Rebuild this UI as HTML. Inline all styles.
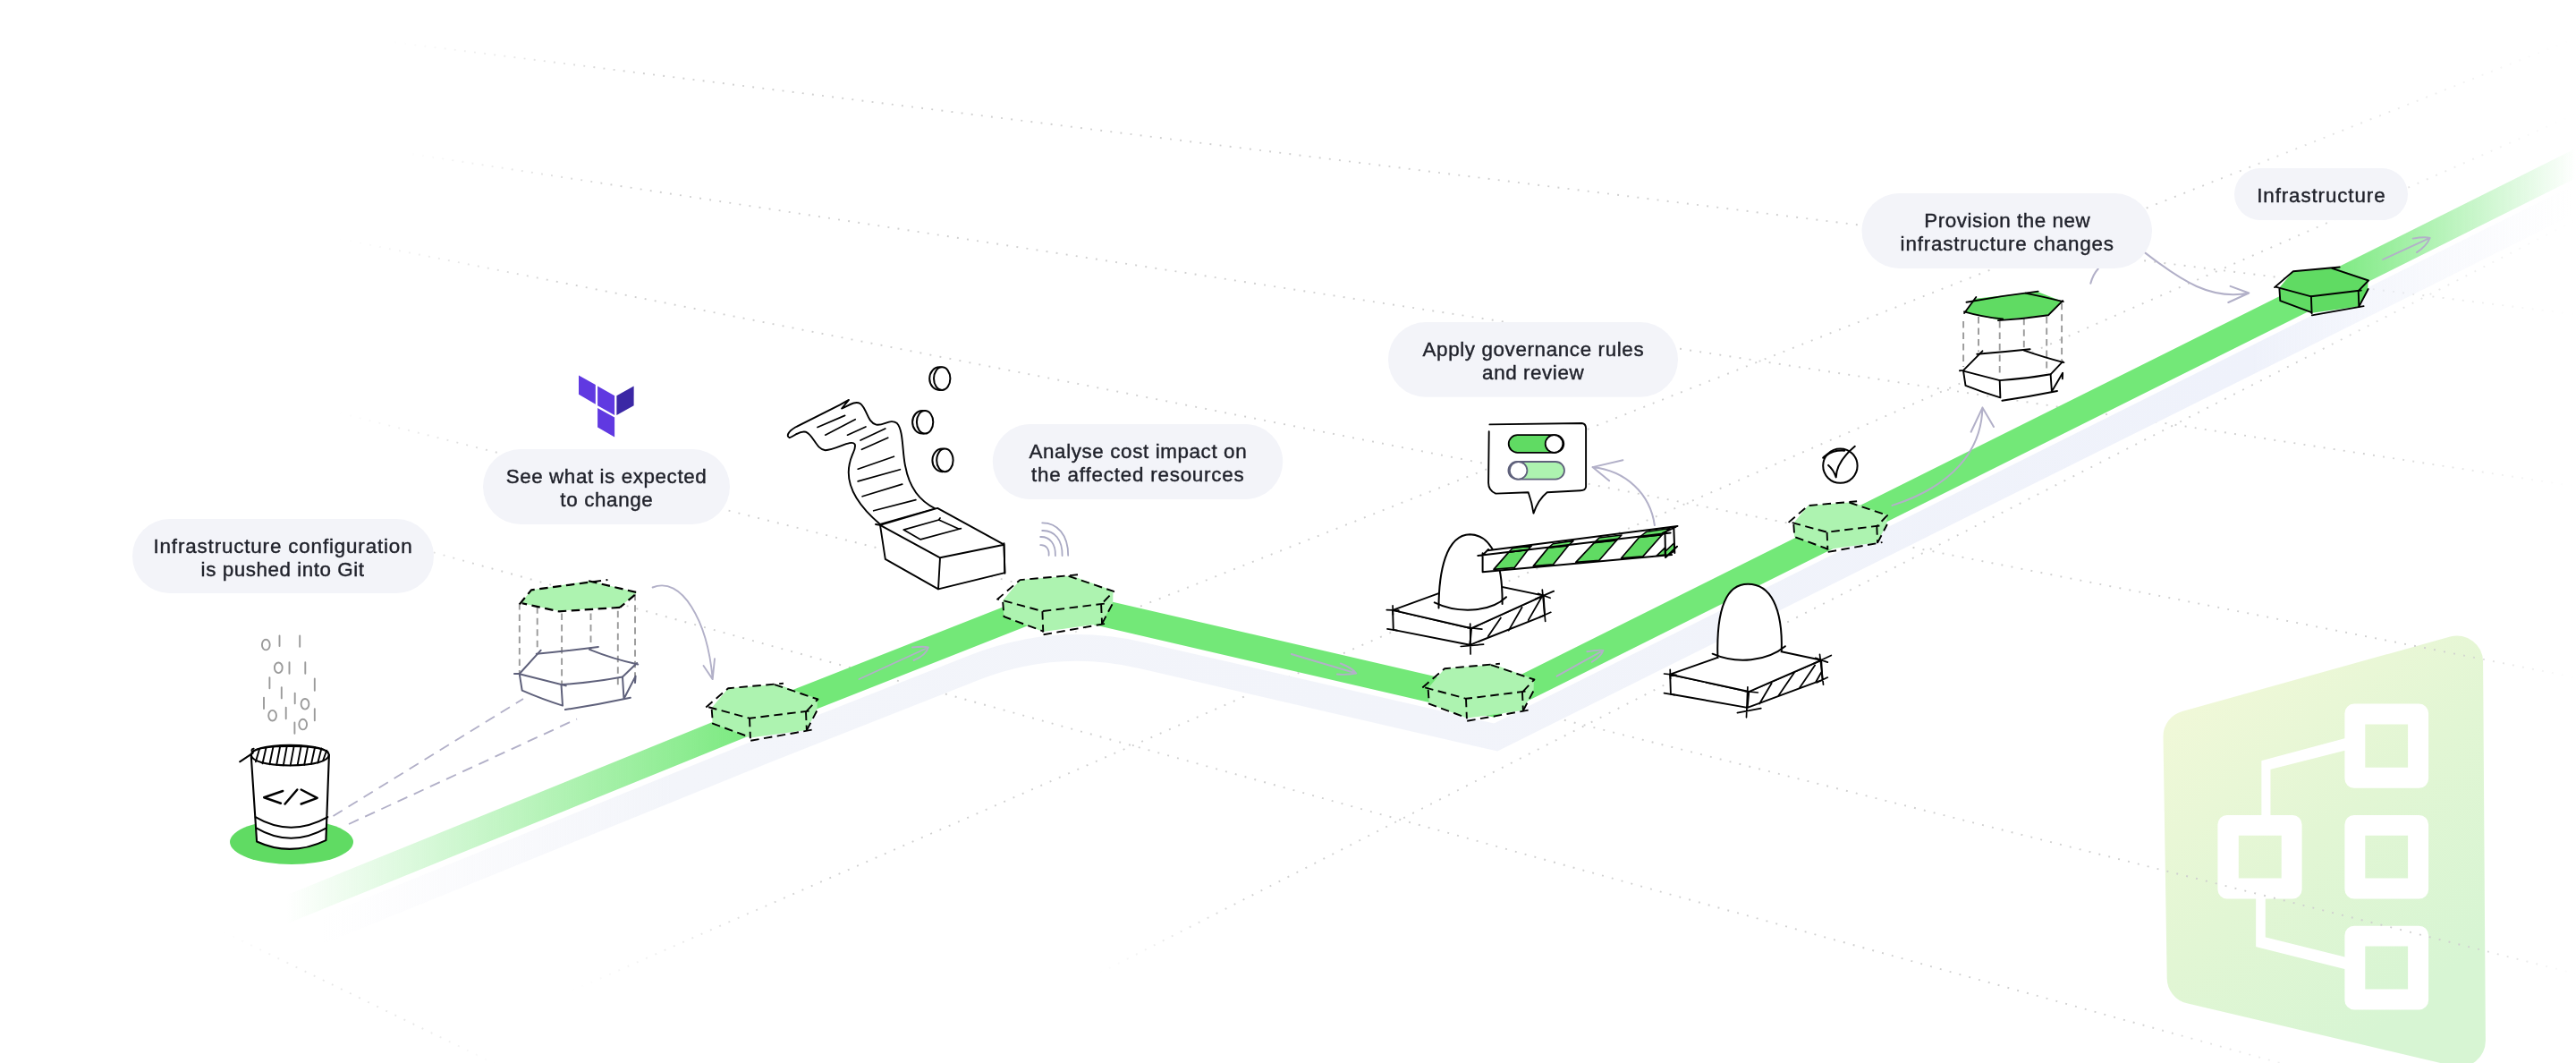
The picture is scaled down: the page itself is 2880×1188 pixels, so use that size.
<!DOCTYPE html>
<html lang="en"><head><meta charset="utf-8"><title>Infrastructure workflow</title>
<style>
html,body{margin:0;padding:0;background:#fff;}
body{width:2880px;height:1188px;overflow:hidden;}
svg{display:block;will-change:transform}
text{font-family:"Liberation Sans",sans-serif;}
</style></head><body>
<svg width="2880" height="1188" viewBox="0 0 2880 1188">
<defs>
<linearGradient id="gband" gradientUnits="userSpaceOnUse" x1="0" y1="0" x2="2880" y2="0">
<stop offset="0" stop-color="#73e878" stop-opacity="0"/>
<stop offset="0.111" stop-color="#73e878" stop-opacity="0"/>
<stop offset="0.302" stop-color="#73e878" stop-opacity="1"/>
<stop offset="0.8993" stop-color="#73e878" stop-opacity="1"/>
<stop offset="1" stop-color="#73e878" stop-opacity="0"/>
</linearGradient>
<linearGradient id="gshadow" gradientUnits="userSpaceOnUse" x1="0" y1="0" x2="2880" y2="0">
<stop offset="0" stop-color="#f4f5fa" stop-opacity="0"/>
<stop offset="0.125" stop-color="#f4f5fa" stop-opacity="0"/>
<stop offset="0.26" stop-color="#f3f5fa" stop-opacity="1"/>
<stop offset="0.55" stop-color="#f2f4fa" stop-opacity="1"/>
<stop offset="0.875" stop-color="#eff2fb" stop-opacity="1"/>
<stop offset="0.998" stop-color="#eff2fb" stop-opacity="0"/>
</linearGradient>
<linearGradient id="gicon" gradientUnits="userSpaceOnUse" x1="2430" y1="800" x2="2700" y2="1120">
<stop offset="0" stop-color="#f0f8d8"/>
<stop offset="0.5" stop-color="#e2f6d4"/>
<stop offset="1" stop-color="#d7f5d3"/>
</linearGradient>
</defs>
<path d="M 2418.5 823.3 A 29 29 0 0 1 2439.8 794.9 L 2739.3 711.6 A 29 29 0 0 1 2776.1 739.4 L 2778.9 1163.1 A 29 29 0 0 1 2743.3 1191.5 L 2445.0 1121.2 A 29 29 0 0 1 2422.7 1093.4 Z" fill="url(#gicon)"/>
<path d="M 2631.9 786.6 H 2704.6 A 10.5 10.5 0 0 1 2715.1 797.1 V 870.3 A 10.5 10.5 0 0 1 2704.6 880.8 H 2631.9 A 10.5 10.5 0 0 1 2621.4 870.3 V 797.1 A 10.5 10.5 0 0 1 2631.9 786.6 Z M 2644.3 809.5 V 857.8 H 2692.1 V 809.5 Z" fill="#fff" fill-rule="evenodd"/>
<path d="M 2631.9 910.9 H 2704.6 A 10.5 10.5 0 0 1 2715.1 921.4 V 994.1 A 10.5 10.5 0 0 1 2704.6 1004.6 H 2631.9 A 10.5 10.5 0 0 1 2621.4 994.1 V 921.4 A 10.5 10.5 0 0 1 2631.9 910.9 Z M 2644.3 933.8 V 981.6 H 2692.1 V 933.8 Z" fill="#fff" fill-rule="evenodd"/>
<path d="M 2631.9 1034.7 H 2704.6 A 10.5 10.5 0 0 1 2715.1 1045.2 V 1117.9 A 10.5 10.5 0 0 1 2704.6 1128.4 H 2631.9 A 10.5 10.5 0 0 1 2621.4 1117.9 V 1045.2 A 10.5 10.5 0 0 1 2631.9 1034.7 Z M 2644.3 1057.6 V 1105.4 H 2692.1 V 1057.6 Z" fill="#fff" fill-rule="evenodd"/>
<path d="M 2489.9 910.9 H 2563.1 A 10.5 10.5 0 0 1 2573.6 921.4 V 994.1 A 10.5 10.5 0 0 1 2563.1 1004.6 H 2489.9 A 10.5 10.5 0 0 1 2479.4 994.1 V 921.4 A 10.5 10.5 0 0 1 2489.9 910.9 Z M 2502.8 933.8 V 981.6 H 2550.7 V 933.8 Z" fill="#fff" fill-rule="evenodd"/>
<path d="M 2529.1 911.8 L 2529.1 850.7 L 2622.4 825.8 L 2622.4 837.7 L 2537.7 859.3 L 2537.7 911.8 Z" fill="#fff" stroke="#fff" stroke-width="1.5" stroke-linejoin="round"/>
<path d="M 2522.9 1003.6 L 2522.9 1057.6 L 2622.4 1082.5 L 2622.4 1070.5 L 2532 1048.1 L 2532 1003.6 Z" fill="#fff" stroke="#fff" stroke-width="1.5" stroke-linejoin="round"/>
<g id="grid">
<linearGradient id="gl1" gradientUnits="userSpaceOnUse" x1="430" y1="45.9446" x2="2880" y2="351.46"><stop offset="0" stop-color="#cfcfcf" stop-opacity="0"/><stop offset="0.12" stop-color="#cfcfcf" stop-opacity="1"/><stop offset="0.88" stop-color="#cfcfcf" stop-opacity="1"/><stop offset="1" stop-color="#cfcfcf" stop-opacity="0"/></linearGradient>
<path d="M 430 45.9446 L 2880 351.46" fill="none" stroke="url(#gl1)" stroke-width="1.9" stroke-dasharray="1.9 9.3"/>
<linearGradient id="gl2" gradientUnits="userSpaceOnUse" x1="450" y1="170.555" x2="2880" y2="543.561"><stop offset="0" stop-color="#cfcfcf" stop-opacity="0"/><stop offset="0.1" stop-color="#cfcfcf" stop-opacity="1"/><stop offset="0.9" stop-color="#cfcfcf" stop-opacity="1"/><stop offset="1" stop-color="#cfcfcf" stop-opacity="0"/></linearGradient>
<path d="M 450 170.555 L 2880 543.561" fill="none" stroke="url(#gl2)" stroke-width="1.9" stroke-dasharray="1.9 9.3"/>
<linearGradient id="gl3" gradientUnits="userSpaceOnUse" x1="380" y1="267.208" x2="2880" y2="757.208"><stop offset="0" stop-color="#cfcfcf" stop-opacity="0"/><stop offset="0.1" stop-color="#cfcfcf" stop-opacity="1"/><stop offset="0.94" stop-color="#cfcfcf" stop-opacity="1"/><stop offset="1" stop-color="#cfcfcf" stop-opacity="0"/></linearGradient>
<path d="M 380 267.208 L 2880 757.208" fill="none" stroke="url(#gl3)" stroke-width="1.9" stroke-dasharray="1.9 9.3"/>
<linearGradient id="gl4" gradientUnits="userSpaceOnUse" x1="380" y1="461.734" x2="2880" y2="1088.23"><stop offset="0" stop-color="#cfcfcf" stop-opacity="0"/><stop offset="0.08" stop-color="#cfcfcf" stop-opacity="1"/><stop offset="0.95" stop-color="#cfcfcf" stop-opacity="1"/><stop offset="1" stop-color="#cfcfcf" stop-opacity="0"/></linearGradient>
<path d="M 380 461.734 L 2880 1088.23" fill="none" stroke="url(#gl4)" stroke-width="1.9" stroke-dasharray="1.9 9.3"/>
<linearGradient id="gl5" gradientUnits="userSpaceOnUse" x1="420" y1="599.481" x2="2640" y2="1213.09"><stop offset="0" stop-color="#cfcfcf" stop-opacity="0"/><stop offset="0.05" stop-color="#cfcfcf" stop-opacity="1"/><stop offset="0.88" stop-color="#cfcfcf" stop-opacity="1"/><stop offset="1" stop-color="#cfcfcf" stop-opacity="0"/></linearGradient>
<path d="M 420 599.481 L 2640 1213.09" fill="none" stroke="url(#gl5)" stroke-width="1.9" stroke-dasharray="1.9 9.3"/>
<linearGradient id="gl6" gradientUnits="userSpaceOnUse" x1="250" y1="1041.4" x2="560" y2="1192.06"><stop offset="0" stop-color="#cfcfcf" stop-opacity="0"/><stop offset="0.3" stop-color="#cfcfcf" stop-opacity="0.5"/><stop offset="0.7" stop-color="#cfcfcf" stop-opacity="0.5"/><stop offset="1" stop-color="#cfcfcf" stop-opacity="0"/></linearGradient>
<path d="M 250 1041.4 L 560 1192.06" fill="none" stroke="url(#gl6)" stroke-width="1.9" stroke-dasharray="1.9 9.3"/>
<linearGradient id="gl7" gradientUnits="userSpaceOnUse" x1="1150" y1="727" x2="2880" y2="42.5"><stop offset="0" stop-color="#cfcfcf" stop-opacity="0"/><stop offset="0.05" stop-color="#cfcfcf" stop-opacity="1"/><stop offset="0.75" stop-color="#cfcfcf" stop-opacity="1"/><stop offset="1" stop-color="#cfcfcf" stop-opacity="0"/></linearGradient>
<path d="M 1150 727 L 2880 42.5" fill="none" stroke="url(#gl7)" stroke-width="1.9" stroke-dasharray="1.9 9.3"/>
<linearGradient id="gl8" gradientUnits="userSpaceOnUse" x1="640" y1="1107" x2="2880" y2="127.5"><stop offset="0" stop-color="#cfcfcf" stop-opacity="0"/><stop offset="0.12" stop-color="#cfcfcf" stop-opacity="1"/><stop offset="0.85" stop-color="#cfcfcf" stop-opacity="1"/><stop offset="1" stop-color="#cfcfcf" stop-opacity="0"/></linearGradient>
<path d="M 640 1107 L 2880 127.5" fill="none" stroke="url(#gl8)" stroke-width="1.9" stroke-dasharray="1.9 9.3"/>
<linearGradient id="gl9" gradientUnits="userSpaceOnUse" x1="1230" y1="1087.18" x2="2880" y2="245.676"><stop offset="0" stop-color="#cfcfcf" stop-opacity="0"/><stop offset="0.1" stop-color="#cfcfcf" stop-opacity="1"/><stop offset="0.8" stop-color="#cfcfcf" stop-opacity="1"/><stop offset="1" stop-color="#cfcfcf" stop-opacity="0"/></linearGradient>
<path d="M 1230 1087.18 L 2880 245.676" fill="none" stroke="url(#gl9)" stroke-width="1.9" stroke-dasharray="1.9 9.3"/>
</g>
<path d="M 303.4 1062.5 L 855.4 838.3 L 1089.2 746.1 Q 1180.4 710.2 1275.9 732.3 L 1672.4 824.0 L 2903.4 210.2" fill="none" stroke="url(#gshadow)" stroke-width="29.5" stroke-linejoin="miter"/>
<path d="M 300.0 1024.7 L 852.0 800.5 L 1177.0 672.4 L 1669.0 786.2 L 2900.0 172.4" fill="none" stroke="url(#gband)" stroke-width="29.7" stroke-linejoin="miter"/>
<path d="M 960.5 759 L 1038 723.5 M 1020 723.5 Q 1032.5 722 1038 723.5 Q 1035 732.5 1021.5 738" fill="none" stroke="#b2b0c8" stroke-width="1.9" stroke-linecap="round" stroke-linejoin="round" />
<path d="M 1443.8 731 L 1516.2 752.5 M 1498.8 741.5 Q 1511.2 746.2 1516.2 752.5 Q 1505 754.5 1495 753.5" fill="none" stroke="#b2b0c8" stroke-width="1.9" stroke-linecap="round" stroke-linejoin="round" />
<path d="M 1740.6 755.7 L 1792.4 726.9 M 1774.4 728.3 Q 1787.3 725.9 1792.4 726.9 Q 1790 733.7 1779.8 739.8" fill="none" stroke="#b2b0c8" stroke-width="1.9" stroke-linecap="round" stroke-linejoin="round" />
<path d="M 2664.1 290 L 2716.7 265.9 M 2697.6 266.6 Q 2710.8 264.3 2716.7 265.9 Q 2713.1 274.8 2701.9 282.1" fill="none" stroke="#b2b0c8" stroke-width="1.9" stroke-linecap="round" stroke-linejoin="round" />
<path d="M 795.7 791.1 L 814.1 769.2 L 869.5 764.8 L 913.8 780.9 L 913.5 793.1 L 901.6 815.9 L 838.9 824.6 L 796.6 808.6 Z" fill="#adf3b0" stroke="none" stroke-width="0" stroke-linecap="round" stroke-linejoin="round" />
<path d="M 789.3 790.5 L 814.1 769.2 L 875.9 763.7" fill="none" stroke="#000" stroke-width="1.9" stroke-linejoin="round" stroke-dasharray="9.5 5.5" stroke-linecap="butt"/>
<path d="M 866 765.1 L 914.4 781.5 L 901 795.5" fill="none" stroke="#000" stroke-width="1.9" stroke-linejoin="round" stroke-dasharray="9.5 5.5" stroke-linecap="butt"/>
<path d="M 904.5 794.6 L 838 802.7 L 790.8 789.9" fill="none" stroke="#000" stroke-width="1.9" stroke-linejoin="round" stroke-dasharray="9.5 5.5" stroke-linecap="butt"/>
<path d="M 795.7 792.8 L 796.9 808.6 L 838.6 824" fill="none" stroke="#000" stroke-width="1.9" stroke-linejoin="round" stroke-dasharray="9.5 5.5" stroke-linecap="butt"/>
<path d="M 838 802.7 L 838.9 825.2" fill="none" stroke="#000" stroke-width="1.9" stroke-linejoin="round" stroke-dasharray="9.5 5.5" stroke-linecap="butt"/>
<path d="M 839.2 827.8 L 908 815.6" fill="none" stroke="#000" stroke-width="1.9" stroke-linejoin="round" stroke-dasharray="9.5 5.5" stroke-linecap="butt"/>
<path d="M 901 795.5 L 901.9 816.7" fill="none" stroke="#000" stroke-width="1.9" stroke-linejoin="round" stroke-dasharray="9.5 5.5" stroke-linecap="butt"/>
<path d="M 901.9 816.2 L 914.1 792.8" fill="none" stroke="#000" stroke-width="1.9" stroke-linejoin="round" stroke-dasharray="9.5 5.5" stroke-linecap="butt"/>
<path d="M 1121.2 671 L 1140.4 648.1 L 1198.3 643.6 L 1244.5 660.3 L 1244.2 673.1 L 1231.8 696.8 L 1166.3 706 L 1122.2 689.2 Z" fill="#adf3b0" stroke="none" stroke-width="0" stroke-linecap="round" stroke-linejoin="round" />
<path d="M 1114.5 670.3 L 1140.4 648.1 L 1205 642.3" fill="none" stroke="#000" stroke-width="1.9" stroke-linejoin="round" stroke-dasharray="9.5 5.5" stroke-linecap="butt"/>
<path d="M 1194.6 643.9 L 1245.2 660.9 L 1231.1 675.5" fill="none" stroke="#000" stroke-width="1.9" stroke-linejoin="round" stroke-dasharray="9.5 5.5" stroke-linecap="butt"/>
<path d="M 1234.8 674.6 L 1165.4 683.1 L 1116.1 669.7" fill="none" stroke="#000" stroke-width="1.9" stroke-linejoin="round" stroke-dasharray="9.5 5.5" stroke-linecap="butt"/>
<path d="M 1121.2 672.8 L 1122.5 689.2 L 1166 705.4" fill="none" stroke="#000" stroke-width="1.9" stroke-linejoin="round" stroke-dasharray="9.5 5.5" stroke-linecap="butt"/>
<path d="M 1165.4 683.1 L 1166.3 706.6" fill="none" stroke="#000" stroke-width="1.9" stroke-linejoin="round" stroke-dasharray="9.5 5.5" stroke-linecap="butt"/>
<path d="M 1166.6 709.3 L 1238.5 696.5" fill="none" stroke="#000" stroke-width="1.9" stroke-linejoin="round" stroke-dasharray="9.5 5.5" stroke-linecap="butt"/>
<path d="M 1231.1 675.5 L 1232.1 697.7" fill="none" stroke="#000" stroke-width="1.9" stroke-linejoin="round" stroke-dasharray="9.5 5.5" stroke-linecap="butt"/>
<path d="M 1232.1 697.1 L 1244.8 672.8" fill="none" stroke="#000" stroke-width="1.9" stroke-linejoin="round" stroke-dasharray="9.5 5.5" stroke-linecap="butt"/>
<path d="M 1596.7 769.1 L 1615.1 747.2 L 1670.5 742.8 L 1714.9 758.9 L 1714.6 771.1 L 1702.6 793.9 L 1639.9 802.6 L 1597.6 786.6 Z" fill="#adf3b0" stroke="none" stroke-width="0" stroke-linecap="round" stroke-linejoin="round" />
<path d="M 1590.3 768.5 L 1615.1 747.2 L 1676.9 741.7" fill="none" stroke="#000" stroke-width="1.9" stroke-linejoin="round" stroke-dasharray="9.5 5.5" stroke-linecap="butt"/>
<path d="M 1667 743.1 L 1715.4 759.5 L 1702 773.5" fill="none" stroke="#000" stroke-width="1.9" stroke-linejoin="round" stroke-dasharray="9.5 5.5" stroke-linecap="butt"/>
<path d="M 1705.5 772.6 L 1639 780.8 L 1591.7 767.9" fill="none" stroke="#000" stroke-width="1.9" stroke-linejoin="round" stroke-dasharray="9.5 5.5" stroke-linecap="butt"/>
<path d="M 1596.7 770.8 L 1597.8 786.6 L 1639.6 802.1" fill="none" stroke="#000" stroke-width="1.9" stroke-linejoin="round" stroke-dasharray="9.5 5.5" stroke-linecap="butt"/>
<path d="M 1639 780.8 L 1639.9 803.2" fill="none" stroke="#000" stroke-width="1.9" stroke-linejoin="round" stroke-dasharray="9.5 5.5" stroke-linecap="butt"/>
<path d="M 1640.2 805.8 L 1709 793.6" fill="none" stroke="#000" stroke-width="1.9" stroke-linejoin="round" stroke-dasharray="9.5 5.5" stroke-linecap="butt"/>
<path d="M 1702 773.5 L 1702.9 794.8" fill="none" stroke="#000" stroke-width="1.9" stroke-linejoin="round" stroke-dasharray="9.5 5.5" stroke-linecap="butt"/>
<path d="M 1702.9 794.2 L 1715.2 770.8" fill="none" stroke="#000" stroke-width="1.9" stroke-linejoin="round" stroke-dasharray="9.5 5.5" stroke-linecap="butt"/>
<path d="M 2005.3 584.4 L 2021.5 565.1 L 2070.5 561.2 L 2109.6 575.4 L 2109.4 586.2 L 2098.8 606.3 L 2043.4 614 L 2006.1 599.9 Z" fill="#adf3b0" stroke="none" stroke-width="0" stroke-linecap="round" stroke-linejoin="round" />
<path d="M 1999.6 583.9 L 2021.5 565.1 L 2076.1 560.2" fill="none" stroke="#000" stroke-width="1.9" stroke-linejoin="round" stroke-dasharray="9.5 5.5" stroke-linecap="butt"/>
<path d="M 2067.4 561.5 L 2110.1 575.9 L 2098.3 588.3" fill="none" stroke="#000" stroke-width="1.9" stroke-linejoin="round" stroke-dasharray="9.5 5.5" stroke-linecap="butt"/>
<path d="M 2101.4 587.5 L 2042.6 594.7 L 2000.9 583.4" fill="none" stroke="#000" stroke-width="1.9" stroke-linejoin="round" stroke-dasharray="9.5 5.5" stroke-linecap="butt"/>
<path d="M 2005.3 586 L 2006.3 599.9 L 2043.1 613.5" fill="none" stroke="#000" stroke-width="1.9" stroke-linejoin="round" stroke-dasharray="9.5 5.5" stroke-linecap="butt"/>
<path d="M 2042.6 594.7 L 2043.4 614.6" fill="none" stroke="#000" stroke-width="1.9" stroke-linejoin="round" stroke-dasharray="9.5 5.5" stroke-linecap="butt"/>
<path d="M 2043.7 616.9 L 2104.5 606.1" fill="none" stroke="#000" stroke-width="1.9" stroke-linejoin="round" stroke-dasharray="9.5 5.5" stroke-linecap="butt"/>
<path d="M 2098.3 588.3 L 2099.1 607.1" fill="none" stroke="#000" stroke-width="1.9" stroke-linejoin="round" stroke-dasharray="9.5 5.5" stroke-linecap="butt"/>
<path d="M 2099.1 606.6 L 2109.9 586" fill="none" stroke="#000" stroke-width="1.9" stroke-linejoin="round" stroke-dasharray="9.5 5.5" stroke-linecap="butt"/>
<path d="M 2548.4 321.6 L 2563.8 303.2 L 2610.3 299.5 L 2647.5 313 L 2647.2 323.3 L 2637.2 342.4 L 2584.6 349.7 L 2549.1 336.2 Z" fill="#60db63" stroke="none" stroke-width="0" stroke-linecap="round" stroke-linejoin="round" />
<path d="M 2543 321.1 L 2563.8 303.2 L 2615.7 298.5" fill="none" stroke="#000" stroke-width="1.9" stroke-linecap="round" stroke-linejoin="round" />
<path d="M 2607.3 299.8 L 2648 313.5 L 2636.7 325.2" fill="none" stroke="#000" stroke-width="1.9" stroke-linecap="round" stroke-linejoin="round" />
<path d="M 2639.7 324.5 L 2583.9 331.3 L 2544.2 320.6" fill="none" stroke="#000" stroke-width="1.9" stroke-linecap="round" stroke-linejoin="round" />
<path d="M 2548.4 323 L 2549.3 336.2 L 2584.3 349.2" fill="none" stroke="#000" stroke-width="1.9" stroke-linecap="round" stroke-linejoin="round" />
<path d="M 2583.9 331.3 L 2584.6 350.2" fill="none" stroke="#000" stroke-width="1.9" stroke-linecap="round" stroke-linejoin="round" />
<path d="M 2584.8 352.4 L 2642.6 342.1" fill="none" stroke="#000" stroke-width="1.9" stroke-linecap="round" stroke-linejoin="round" />
<path d="M 2636.7 325.2 L 2637.4 343.1" fill="none" stroke="#000" stroke-width="1.9" stroke-linecap="round" stroke-linejoin="round" />
<path d="M 2637.4 342.6 L 2647.7 323" fill="none" stroke="#000" stroke-width="1.9" stroke-linecap="round" stroke-linejoin="round" />
<ellipse cx="326" cy="941" rx="69" ry="25" fill="#60db63"/>
<path d="M 280.7 843.7 L 287.1 940.5 Q 325 958 364.4 939.1 L 367.9 843.7 Q 365.8 833.5 324.1 832.9 Q 282.7 833.5 280.7 843.7 Z" fill="#fff" stroke="#000" stroke-width="2.1" stroke-linecap="round" stroke-linejoin="round" />
<path d="M 280.7 843.7 Q 282.7 854.8 324.1 855.4 Q 365.8 854.8 367.9 843.7" fill="none" stroke="#000" stroke-width="2" stroke-linecap="round" stroke-linejoin="round" />
<path d="M 281.8 840.2 Q 290 834.1 324.1 834.1 Q 357.1 834.1 366.7 840.2" fill="none" stroke="#000" stroke-width="1.6" stroke-linecap="round" stroke-linejoin="round" />
<path d="M 285.6 913.1 Q 325 936.2 366.4 913.1" fill="none" stroke="#000" stroke-width="2" stroke-linecap="round" stroke-linejoin="round" />
<path d="M 286.5 925.4 Q 325 948.1 365 925.4" fill="none" stroke="#000" stroke-width="2" stroke-linecap="round" stroke-linejoin="round" />
<path d="M 268.1 851.3 L 282.7 841.7 Q 279.8 837.3 283.6 836.7" fill="none" stroke="#000" stroke-width="2" stroke-linecap="round" stroke-linejoin="round" />
<path d="M 290 837.3 L 285.9 851.3 M 297.6 835.2 L 293.5 853.3 M 305.5 834.4 L 301.4 854.2 M 313.3 833.5 L 309.2 854.8 M 320.9 833.2 L 316.8 855.4 M 328.8 833.2 L 324.7 855.4 M 336.7 833.5 L 332.6 855.1 M 344.2 834.1 L 340.2 854.8 M 352.1 835 L 348 853.9 M 359.4 836.4 L 355.3 852.5 M 365.2 838.7 L 361.2 849.8" fill="none" stroke="#000" stroke-width="1.9" stroke-linecap="round" stroke-linejoin="round" />
<path d="M 316.2 884 L 295.2 891.2 L 313.9 897.7 M 332.3 882.5 L 318.6 898.5 M 336.7 882.5 L 354.7 891.8 L 336.7 898.5" fill="none" stroke="#000" stroke-width="2.5" stroke-linecap="round" stroke-linejoin="round" />
<path d="M 312.5 710.4 L 312.5 722.1 M 335.2 710.4 L 335.2 722.7 M 323.5 740.2 L 323.5 752.7 M 341.3 740.2 L 341.3 752.7 M 301.4 757.1 L 301.4 769.3 M 351.8 758.5 L 351.8 771.7 M 314.8 768.2 L 314.8 780.4 M 329.7 774.6 L 329.7 786.2 M 295 779.8 L 295 792.1 M 319.7 790.6 L 319.7 803.2 M 351.8 792.1 L 351.8 805.2 M 329.4 807.5 L 329.4 819.8" fill="none" stroke="#9a9a9a" stroke-width="1.9" stroke-linecap="round" stroke-linejoin="round" />
<ellipse cx="297.3" cy="720.6" rx="4.4" ry="5.8" fill="none" stroke="#9a9a9a" stroke-width="1.9"/>
<ellipse cx="311.3" cy="746.3" rx="4.4" ry="5.8" fill="none" stroke="#9a9a9a" stroke-width="1.9"/>
<ellipse cx="341.0" cy="786.8" rx="4.4" ry="5.8" fill="none" stroke="#9a9a9a" stroke-width="1.9"/>
<ellipse cx="304.6" cy="799.7" rx="4.4" ry="5.8" fill="none" stroke="#9a9a9a" stroke-width="1.9"/>
<ellipse cx="338.7" cy="809.6" rx="4.4" ry="5.8" fill="none" stroke="#9a9a9a" stroke-width="1.9"/>
<path d="M 372.5 912 L 585 781 M 390 921 L 645 803.5" fill="none" stroke="#b2b0c8" stroke-width="1.9" stroke-dasharray="12 8"/>
<path d="M 580.8 674 L 580.8 754.2 M 600.7 678.3 L 600.7 727.9 M 628.1 685.6 L 628.1 765.8 M 660.5 685.6 L 660.5 726.5 M 690.8 682.7 L 690.8 765.8 M 710 663.7 L 710 762.9" fill="none" stroke="#9a9a9a" stroke-width="1.9" stroke-linejoin="round" stroke-dasharray="7.5 5" stroke-linecap="butt"/>
<path d="M 582.3 674 L 594 659.4 L 659.6 649.2 L 712.1 662.3 L 693.1 678.3 L 624.6 682.7 Z" fill="#adf3b0" stroke="none" stroke-width="0" stroke-linecap="round" stroke-linejoin="round" />
<path d="M 580.8 675.4 L 594 659.4 L 679.4 648" fill="none" stroke="#000" stroke-width="2.2" stroke-linejoin="round" stroke-dasharray="9.5 5.5" stroke-linecap="butt"/>
<path d="M 658.1 649.2 L 712.7 662.3 L 693.1 678.9" fill="none" stroke="#000" stroke-width="2.2" stroke-linejoin="round" stroke-dasharray="9.5 5.5" stroke-linecap="butt"/>
<path d="M 693.1 678.9 L 624.6 683.3 L 583.7 674.2" fill="none" stroke="#000" stroke-width="2.2" stroke-linejoin="round" stroke-dasharray="9.5 5.5" stroke-linecap="butt"/>
<path d="M 575 753 L 580.8 753 L 604.7 726.7" fill="none" stroke="#5f617b" stroke-width="2" stroke-linecap="round" stroke-linejoin="round" />
<path d="M 599.8 730.8 Q 636.2 727.3 668.9 723" fill="none" stroke="#5f617b" stroke-width="2" stroke-linecap="round" stroke-linejoin="round" />
<path d="M 659 725.9 Q 685.8 736.7 713.2 742.5" fill="none" stroke="#5f617b" stroke-width="2" stroke-linecap="round" stroke-linejoin="round" />
<path d="M 712.1 741 L 696 756.5 Q 662.5 762.9 627.5 765 L 580.8 753.3" fill="none" stroke="#5f617b" stroke-width="2" stroke-linecap="round" stroke-linejoin="round" />
<path d="M 580.8 753.3 L 583.7 771.7 Q 607.1 781.9 629 788.6 L 627.5 765 L 632.7 766.4" fill="none" stroke="#5f617b" stroke-width="2" stroke-linecap="round" stroke-linejoin="round" />
<path d="M 631.9 793 Q 668.3 787.7 704.8 779.8" fill="none" stroke="#5f617b" stroke-width="2" stroke-linecap="round" stroke-linejoin="round" />
<path d="M 696 756.5 L 697.5 781 L 710.6 755.6 L 710 762.9" fill="none" stroke="#5f617b" stroke-width="2" stroke-linecap="round" stroke-linejoin="round" />
<path d="M 729.6 656.5 C 761.7 643.3 790.8 692.9 796.7 758.5 M 786.5 744 L 796.7 759.1 L 799 736.1" fill="none" stroke="#b2b0c8" stroke-width="1.9" stroke-linecap="round" stroke-linejoin="round" />
<path d="M 647 419.4 L 665.8 430.1 L 665.8 451.8 L 647 440.8 Z M 668.1 431.4 L 687.1 442.3 L 687.1 464 L 668.1 453.3 Z M 668.1 455.9 L 687.1 466.6 L 687.1 488.5 L 668.1 477.5 Z" fill="#6039e1"/>
<path d="M 689.4 442.3 L 708.6 431.6 L 708.6 453.3 L 689.4 464 Z" fill="#3b27a5"/>
<path d="M 984 586 C 959.2 565 944.6 541.7 949.8 518.3 C 951.9 506.7 957.7 502.3 955.7 496.5 C 951.9 490.6 935.8 502.3 922.7 503.2 C 912.5 502.3 909.6 486.2 900.8 482.7 C 893.5 481 887.7 487.7 882.7 489.2 C 879 487.7 880.4 482.7 889.2 477.5 L 938.7 452.7 L 949 446.9 L 941.1 456.5 C 946 455.6 954.8 446.9 962.1 451.2 C 969.4 457.1 969.4 471.7 979.6 474.6 C 988.3 476 995.6 467.3 1002.9 473.1 C 1010.2 480.4 1008.7 506.7 1012.2 521.2 C 1016 541.7 1026.2 559.2 1045.8 568.5 Z" fill="#fff" stroke="#000" stroke-width="1.9" stroke-linecap="round" stroke-linejoin="round" />
<path d="M 914 477.5 L 944.6 464.4 M 922.7 486.2 L 956.2 468.7 M 947.5 486.2 L 967.9 476.9 M 962.1 492.1 L 989.8 479 M 963.5 502.3 L 992.7 489.2 M 959.2 524.2 L 999.4 510.2 M 959.2 537.9 L 1006.4 524.7 M 964.1 554.8 L 1008.7 541.1 M 976.7 570.8 L 1023.9 558.6" fill="none" stroke="#000" stroke-width="1.7" stroke-linecap="round" stroke-linejoin="round" />
<path d="M 984 586.9 L 1048.1 567.9 L 1122.5 608.7 L 1123.4 640.2 L 1049 658.3 L 989.8 624.8 Z" fill="#fff" stroke="#000" stroke-width="1.9" stroke-linecap="round" stroke-linejoin="round" />
<path d="M 979 586 L 984 586.9 L 1051 623.3 L 1122.5 608.7 M 1051 623.3 L 1049 658.3 M 1122.5 607.3 L 1123.4 640.8" fill="none" stroke="#000" stroke-width="1.9" stroke-linecap="round" stroke-linejoin="round" />
<path d="M 1010.2 592.1 L 1049.6 581 L 1072.3 591.2 L 1029.2 602.9 Z M 1049.6 581 L 1051 579 M 1072.3 591.2 L 1074.4 590.7" fill="none" stroke="#000" stroke-width="1.7" stroke-linecap="round" stroke-linejoin="round" />
<ellipse cx="1050.2" cy="423.1" rx="11" ry="12.8" fill="#fff" stroke="#000" stroke-width="2"/>
<ellipse cx="1053.2" cy="423.1" rx="9.2" ry="12.8" fill="#fff" stroke="#000" stroke-width="2"/>
<ellipse cx="1031.1" cy="471.8" rx="11" ry="12.8" fill="#fff" stroke="#000" stroke-width="2"/>
<ellipse cx="1034.1" cy="471.8" rx="9.2" ry="12.8" fill="#fff" stroke="#000" stroke-width="2"/>
<ellipse cx="1053.4" cy="514.4" rx="11" ry="12.8" fill="#fff" stroke="#000" stroke-width="2"/>
<ellipse cx="1056.4" cy="514.4" rx="9.2" ry="12.8" fill="#fff" stroke="#000" stroke-width="2"/>
<path d="M 1165.2 584.3 C 1182.1 584.3 1194.3 597.6 1194.2 620.8 M 1165.2 593 C 1179.1 592.5 1188 603.6 1187.6 621.1 M 1163.2 600 C 1173.9 599.6 1180.4 608.2 1179.9 621.1 M 1163.2 609.1 C 1169.3 608.6 1173.2 613.4 1172.6 620.8" fill="none" stroke="#a9a9c3" stroke-width="1.8" stroke-linecap="round" stroke-linejoin="round" />
<path d="M 1557.1 681.9 L 1557.8 703.9 L 1643.4 720.8 L 1645.1 702.2 Z" fill="#fff" stroke="#000" stroke-width="1.9" stroke-linecap="round" stroke-linejoin="round" />
<path d="M 1645.1 702.2 L 1725.7 665.6 L 1727 687.6 L 1643.4 720.8 Z" fill="#fff" stroke="#000" stroke-width="1.9" stroke-linecap="round" stroke-linejoin="round" />
<path d="M 1557.1 681.9 L 1646.8 649.1 L 1725.7 665.6 L 1645.1 702.2 Z" fill="#fff" stroke="#000" stroke-width="1.9" stroke-linecap="round" stroke-linejoin="round" />
<path d="M 1663.7 711.3 L 1677.9 690.4 M 1686.7 704.6 L 1701.6 678.8 M 1708.7 693.1 L 1723.6 667.3" fill="none" stroke="#000" stroke-width="1.8" stroke-linecap="round" stroke-linejoin="round" />
<path d="M 1550.3 681.6 L 1563.9 682.2 M 1551 702.9 L 1562.2 704.6 M 1557.1 676.8 L 1557.4 687 M 1640 701.2 L 1656.9 703.2 M 1633.2 722.5 L 1658.6 720.1 M 1643.7 697.1 L 1644.1 731 M 1716.9 669.4 L 1737.2 660.6 M 1721.3 689.7 L 1733.8 684.3 M 1724.3 659.2 L 1727.7 694.4 M 1719.6 663.3 L 1733.1 668.3" fill="none" stroke="#000" stroke-width="1.7" stroke-linecap="round" stroke-linejoin="round" />
<path d="M 1608.5 679.5 C 1608.5 639.6 1616.3 597.9 1643.4 597.3 C 1670.5 597.9 1679.6 632.8 1679.6 671.7 L 1679.6 675.1 C 1658.6 685.3 1628.2 683.6 1608.5 679.5 Z" fill="#fff" stroke="none" stroke-width="0" stroke-linecap="round" stroke-linejoin="round" />
<path d="M 1608.5 679.5 C 1608.5 639.6 1616.3 597.9 1643.4 597.3 C 1670.5 597.9 1679.6 632.8 1679.6 671.7 L 1679.6 675.1" fill="none" stroke="#000" stroke-width="2" stroke-linecap="round" stroke-linejoin="round" />
<path d="M 1603.8 673.4 C 1628.2 685.3 1665.4 685.3 1684 667.3" fill="none" stroke="#000" stroke-width="2" stroke-linecap="round" stroke-linejoin="round" />
<path d="M 1657.6 619.9 L 1663 615.2 L 1875.5 588.2 L 1872.2 617.7 L 1862 622.9 L 1657.6 639.2 Z" fill="#fff" stroke="none" stroke-width="0" stroke-linecap="round" stroke-linejoin="round" />
<path d="M 1670 636.4 L 1693.3 634.3 L 1708.2 614.5 L 1686.8 617.1 Z" fill="#60db63" stroke="#000" stroke-width="1.7" stroke-linecap="round" stroke-linejoin="round" />
<path d="M 1714.3 632.6 L 1736.6 630.8 L 1753.4 609.8 L 1731.1 612.1 Z" fill="#60db63" stroke="#000" stroke-width="1.7" stroke-linecap="round" stroke-linejoin="round" />
<path d="M 1761.8 628.4 L 1787.9 626.3 L 1807.5 603.8 L 1782.3 606.6 Z" fill="#60db63" stroke="#000" stroke-width="1.7" stroke-linecap="round" stroke-linejoin="round" />
<path d="M 1812.6 623.8 L 1836.8 621.9 L 1858.2 597.7 L 1832.6 600.5 Z" fill="#60db63" stroke="#000" stroke-width="1.7" stroke-linecap="round" stroke-linejoin="round" />
<path d="M 1852.2 621 L 1861.5 612.1 L 1861.5 620.2 Z" fill="#60db63" stroke="#000" stroke-width="1.7" stroke-linecap="round" stroke-linejoin="round" />
<path d="M 1862.2 615.9 L 1871.6 607 L 1872 615.9 L 1862.2 622.4 Z" fill="#60db63" stroke="#000" stroke-width="1.7" stroke-linecap="round" stroke-linejoin="round" />
<path d="M 1686.8 617.1 L 1708.2 614.5 L 1712.4 610 L 1691 612.8 Z" fill="#60db63" stroke="#000" stroke-width="1.5" stroke-linecap="round" stroke-linejoin="round" />
<path d="M 1731.1 612.1 L 1753.4 609.8 L 1759 604.6 L 1736.2 607.7 Z" fill="#60db63" stroke="#000" stroke-width="1.5" stroke-linecap="round" stroke-linejoin="round" />
<path d="M 1782.3 606.6 L 1807.5 603.8 L 1813 597.9 L 1787.9 601.1 Z" fill="#60db63" stroke="#000" stroke-width="1.5" stroke-linecap="round" stroke-linejoin="round" />
<path d="M 1832.6 600.5 L 1858.2 597.7 L 1867.1 590.6 L 1841 594.2 Z" fill="#60db63" stroke="#000" stroke-width="1.5" stroke-linecap="round" stroke-linejoin="round" />
<path d="M 1652.3 621 L 1867.6 595.4 M 1663 615.2 L 1875.5 588 M 1657.6 618.2 L 1657.6 639.2 L 1869 620.1 M 1861.5 594.7 L 1862 623 M 1871.3 589.3 L 1872.3 618 M 1862 622.9 L 1875 610.7 M 1858.7 595.8 L 1873.6 588.9 M 1664 614 L 1658.4 619.6" fill="none" stroke="#000" stroke-width="2" stroke-linecap="round" stroke-linejoin="round" />
<path d="M 1665.4 474.4 L 1768.7 473 Q 1773.1 473.7 1773.1 478.8 L 1773.1 544.1 Q 1772.4 548.2 1767 548.2 L 1729.7 550.2 Q 1719.6 558.3 1714.5 573.6 Q 1712.8 561.7 1708.7 550.2 L 1672.2 551.6 Q 1663.7 548.2 1664.1 538.7 L 1664.7 482.2" fill="#fff" stroke="#000" stroke-width="1.9" stroke-linecap="round" stroke-linejoin="round" />
<rect x="1686.7" y="486.2" width="61.6" height="19.6" rx="9.8" fill="#60db63" stroke="#000" stroke-width="1.8"/>
<circle cx="1737.5" cy="496.0" r="9.8" fill="#fff" stroke="#000" stroke-width="1.8"/>
<rect x="1686.4" y="516.0" width="62.6" height="19.6" rx="9.8" fill="#adf3b0" stroke="#5f617b" stroke-width="1.8"/>
<circle cx="1697.6" cy="525.8" r="9.8" fill="#fff" stroke="#5f617b" stroke-width="1.8"/>
<path d="M 1849.9 587.1 C 1844.8 551.6 1817.7 526.2 1780.5 522.1 M 1814.4 514.3 L 1780.5 522.1 L 1799.1 537.3" fill="none" stroke="#b2b0c8" stroke-width="2" stroke-linecap="round" stroke-linejoin="round" />
<path d="M 1867.2 753.7 L 1867.9 775.7 L 1953.6 790.9 L 1955.3 773 Z" fill="#fff" stroke="#000" stroke-width="1.9" stroke-linecap="round" stroke-linejoin="round" />
<path d="M 1955.3 773 L 2036.2 737.8 L 2037.5 759.8 L 1953.6 790.9 Z" fill="#fff" stroke="#000" stroke-width="1.9" stroke-linecap="round" stroke-linejoin="round" />
<path d="M 1867.2 753.7 L 1958.6 721.2 L 2036.2 737.8 L 1955.3 773 Z" fill="#fff" stroke="#000" stroke-width="1.9" stroke-linecap="round" stroke-linejoin="round" />
<path d="M 1967.1 786.5 L 1980.6 763.8 M 1988.4 777.4 L 2006 751.7 M 2012.1 768.6 L 2029.1 743.5 M 2030.4 761.8 L 2036.5 751" fill="none" stroke="#000" stroke-width="1.8" stroke-linecap="round" stroke-linejoin="round" />
<path d="M 1860.5 753 L 1874 754.4 M 1860.5 774.7 L 1872.3 776.7 M 1867.2 748.3 L 1867.6 758.4 M 1950.2 772.3 L 1965.4 774 M 1942.4 796.7 L 1968.8 791.6 M 1953.9 767.9 L 1952.5 801.8 M 2028 741.5 L 2047.3 732.4 M 2031.4 762.8 L 2043.3 757.1 M 2034.5 731.3 L 2038.5 765.2 M 2029.7 735.4 L 2043.3 740.1" fill="none" stroke="#000" stroke-width="1.7" stroke-linecap="round" stroke-linejoin="round" />
<path d="M 1920.4 734.7 C 1918.7 678.2 1930.9 652.8 1954.2 652.8 C 1979 652.8 1993.2 678.2 1991.8 728 C 1972.2 740.1 1938.3 740.8 1920.4 734.7 Z" fill="#fff" stroke="none" stroke-width="0" stroke-linecap="round" stroke-linejoin="round" />
<path d="M 1920.4 734.7 C 1918.7 678.2 1930.9 652.8 1954.2 652.8 C 1979 652.8 1993.2 678.2 1991.8 728" fill="none" stroke="#000" stroke-width="2" stroke-linecap="round" stroke-linejoin="round" />
<path d="M 1914.6 730.7 C 1941.7 742.5 1975.6 739.1 1995.9 722.2" fill="none" stroke="#000" stroke-width="2" stroke-linecap="round" stroke-linejoin="round" />
<circle cx="2057.4" cy="520.6" r="19.2" fill="none" stroke="#000" stroke-width="2"/>
<path d="M 2044.1 519.9 Q 2050.1 525.1 2052.7 533.4 Q 2053.1 516.1 2073.8 498.8" fill="none" stroke="#000" stroke-width="2" stroke-linecap="round" stroke-linejoin="round" />
<path d="M 2038.4 511.6 Q 2047.8 502.6 2062.1 503.5" fill="none" stroke="#000" stroke-width="2.4" stroke-linecap="round" stroke-linejoin="round" />
<path d="M 2115.5 564.9 C 2181.6 543.6 2215.4 504.7 2216.4 455.6 M 2203.6 482.7 L 2216.4 455.6 L 2229 476.9" fill="none" stroke="#b2b0c8" stroke-width="2" stroke-linecap="round" stroke-linejoin="round" />
<path d="M 2191.7 413.9 L 2214.7 394.7 L 2266.2 391.3 L 2306.1 404.8 L 2306.1 416.7 L 2293.9 437 L 2236.7 447.1 L 2197.5 430.9 L 2195.1 415 Z" fill="#fff" stroke="none" stroke-width="0" stroke-linecap="round" stroke-linejoin="round" />
<path d="M 2195.1 359.1 L 2195.1 409.9 M 2212 354 L 2212 393 M 2235.7 359.1 L 2235.7 416.7 M 2262.8 355.7 L 2262.8 391.3 M 2288.2 354 L 2288.2 416.7 M 2305.1 338.8 L 2305.1 403.1" fill="none" stroke="#9a9a9a" stroke-width="1.9" stroke-linejoin="round" stroke-dasharray="7.5 5" stroke-linecap="butt"/>
<path d="M 2191 414.3 L 2195.1 413.9 L 2216.4 392.3" fill="none" stroke="#000" stroke-width="1.9" stroke-linecap="round" stroke-linejoin="round" />
<path d="M 2210.3 395.7 Q 2239.1 393.6 2269.6 390.3" fill="none" stroke="#000" stroke-width="1.9" stroke-linecap="round" stroke-linejoin="round" />
<path d="M 2262.8 391.6 Q 2286.5 399.7 2307.5 405.1" fill="none" stroke="#000" stroke-width="1.9" stroke-linecap="round" stroke-linejoin="round" />
<path d="M 2306.1 404.1 L 2292.6 418.3 Q 2264.5 423.4 2235.7 425.1 L 2195.1 414.6" fill="none" stroke="#000" stroke-width="1.9" stroke-linecap="round" stroke-linejoin="round" />
<path d="M 2195.1 415 L 2197.5 430.9 Q 2217.1 438.7 2236.4 444.4 L 2235.7 425.1" fill="none" stroke="#000" stroke-width="1.9" stroke-linecap="round" stroke-linejoin="round" />
<path d="M 2238.4 447.8 Q 2269.6 443.1 2300 437" fill="none" stroke="#000" stroke-width="1.9" stroke-linecap="round" stroke-linejoin="round" />
<path d="M 2292.6 418.3 L 2293.9 437.6 L 2306.1 416.7 L 2305.8 423.4" fill="none" stroke="#000" stroke-width="1.9" stroke-linecap="round" stroke-linejoin="round" />
<path d="M 2196.8 349 L 2208.6 333.7 L 2278 325.9 L 2306.1 337.1 L 2289.9 352.3 L 2234 357.4 Z" fill="#60db63" stroke="none" stroke-width="0" stroke-linecap="round" stroke-linejoin="round" />
<path d="M 2198.5 337.8 Q 2239.1 330.3 2278.7 325.6" fill="none" stroke="#000" stroke-width="1.9" stroke-linecap="round" stroke-linejoin="round" />
<path d="M 2264.5 327.6 Q 2286.5 332 2306.8 337.1" fill="none" stroke="#000" stroke-width="1.9" stroke-linecap="round" stroke-linejoin="round" />
<path d="M 2306.1 336.1 L 2289.9 352.3 Q 2262.8 356.4 2234 358.1" fill="none" stroke="#000" stroke-width="1.9" stroke-linecap="round" stroke-linejoin="round" />
<path d="M 2196.1 348.3 Q 2215.4 354 2239.1 356.4" fill="none" stroke="#000" stroke-width="1.9" stroke-linecap="round" stroke-linejoin="round" />
<path d="M 2196.1 350 L 2209.3 332" fill="none" stroke="#000" stroke-width="1.9" stroke-linecap="round" stroke-linejoin="round" />
<path d="M 2337.3 316.8 Q 2340 306.6 2345.7 300.5" fill="none" stroke="#b2b0c8" stroke-width="2" stroke-linecap="round" stroke-linejoin="round" />
<path d="M 2398.1 282.4 C 2439.2 314.3 2472.2 335.7 2514.3 327.5 M 2493.6 319.9 L 2514.3 327.5 L 2491.3 338" fill="none" stroke="#b2b0c8" stroke-width="2" stroke-linecap="round" stroke-linejoin="round" />
<rect x="148" y="580" width="337" height="83" rx="41.5" fill="#f3f4f9"/>
<rect x="540" y="502" width="276" height="84" rx="42" fill="#f3f4f9"/>
<rect x="1109.8" y="474.1" width="324.4" height="83.9" rx="41.95" fill="#f3f4f9"/>
<rect x="1552" y="360" width="324" height="83.8" rx="41.9" fill="#f3f4f9"/>
<rect x="2081.5" y="216" width="324.5" height="84" rx="42" fill="#f3f4f9"/>
<rect x="2498" y="188" width="194" height="58" rx="29" fill="#f3f4f9"/>
<g font-size="22.4" fill="#20222b" stroke="#20222b" stroke-width="0.4">
<text x="171.5" y="618" textLength="289.1" lengthAdjust="spacing">Infrastructure configuration</text>
<text x="224.6" y="644" textLength="182.4" lengthAdjust="spacing">is pushed into Git</text>
<text x="565.7" y="539.8" textLength="224" lengthAdjust="spacing">See what is expected</text>
<text x="626.3" y="565.6" textLength="103.5" lengthAdjust="spacing">to change</text>
<text x="1150.5" y="512" textLength="243.1" lengthAdjust="spacing">Analyse cost impact on</text>
<text x="1153" y="538.1" textLength="237.8" lengthAdjust="spacing">the affected resources</text>
<text x="1590.5" y="397.9" textLength="247.1" lengthAdjust="spacing">Apply governance rules</text>
<text x="1657.1" y="424" textLength="113.5" lengthAdjust="spacing">and review</text>
<text x="2151.2" y="254.2" textLength="185.4" lengthAdjust="spacing">Provision the new</text>
<text x="2124.6" y="280" textLength="238.4" lengthAdjust="spacing">infrastructure changes</text>
<text x="2523.2" y="225.8" textLength="143.4" lengthAdjust="spacing">Infrastructure</text>
</g>
</svg>
</body></html>
